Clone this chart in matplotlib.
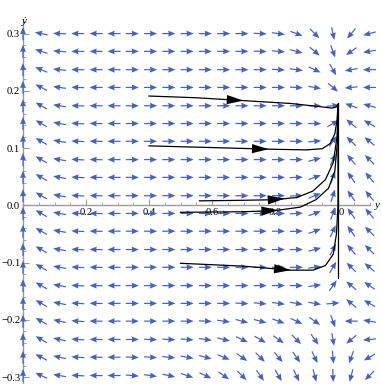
import numpy as np
import matplotlib.pyplot as plt
from matplotlib.ticker import MultipleLocator

# vector grid (x columns, y rows from top to bottom)
xs = [0.0, 0.058, 0.116, 0.174, 0.232, 0.289, 0.347, 0.405, 0.463, 0.521,
      0.579, 0.637, 0.695, 0.753, 0.811, 0.868, 0.926, 0.984, 1.042, 1.1]
ys = [0.3, 0.269, 0.237, 0.206, 0.174, 0.143, 0.112, 0.080, 0.049, 0.017,
      -0.014, -0.045, -0.077, -0.108, -0.140, -0.171, -0.202, -0.234, -0.265, -0.297]

# arrow directions on screen, degrees (0 = right, 90 = up), read row by row
angles = [
    [90, 168, 178, 180, 180, 180, 0, 0, 0, 0, 0, 0, 0, -3, -8, -20, -45, -78, -130, -165],
    [90, 162, 176, 180, 180, 180, 0, 0, 0, 0, 0, 0, 0, -2, -5, -15, -40, -70, -145, -170],
    [90, 157, 174, 179, 180, 180, 0, 0, 0, 0, 0, 0, 0, 0, -3, -8, -25, -60, -170, 180],
    [90, 152, 172, 178, 180, 180, 0, 0, 0, 0, 0, 0, 0, 0, 0, -3, -10, -40, -175, 180],
    [90, 150, 171, 178, 180, 180, 0, 0, 0, 0, 0, 0, 0, 0, 0, 0, 0, 5, 160, 165],
    [90, 150, 170, 177, 179, 180, 0, 0, 0, 0, 0, 0, 0, 0, 0, 0, 0, 30, 140, 150],
    [90, 150, 170, 177, 179, 180, 0, 0, 0, 0, 0, 0, 0, 0, 0, 0, 5, 55, 135, 140],
    [90, 150, 170, 177, 179, 180, 0, 0, 0, 0, 0, 0, 0, 0, 0, 0, 15, 65, 130, 135],
    [90, 150, 170, 177, 179, 180, 0, 0, 0, 0, 0, 0, 0, 0, 0, 2, 20, 70, 125, 130],
    [90, 150, 170, 177, 179, 180, 0, 0, 0, 0, 0, 0, 0, 0, 0, 3, 22, 72, 125, 130],
    [90, 150, 170, 177, 179, 180, 0, 0, 0, 0, 0, 0, 0, 0, 0, 3, 20, 70, 125, 130],
    [90, 150, 170, 177, 179, 180, 0, 0, 0, 0, 0, 0, 0, 0, 0, 2, 20, 65, 125, 135],
    [90, 150, 170, 177, 179, 180, 0, 0, 0, 0, 0, 0, 0, 0, 0, 0, 15, 62, 130, 135],
    [90, 150, 170, 177, 179, 180, 0, 0, 0, 0, 0, 0, 0, 0, 0, 0, 8, 60, 135, 140],
    [90, 150, 170, 177, 179, 180, 0, 0, 0, 0, 0, 0, 0, 0, 0, 0, 8, 55, 140, 145],
    [90, 150, 169, 177, 179, 180, 0, 0, 0, 0, 0, 0, -3, -5, -8, -10, -10, 5, 140, 150],
    [90, 150, 168, 176, 179, 180, 0, 0, 0, 0, -3, -8, -15, -15, -20, -25, -35, -70, 180, 170],
    [90, 150, 168, 176, 179, 180, 0, -2, -3, -5, -8, -14, -25, -30, -35, -45, -55, -80, -140, -175],
    [90, 152, 168, 176, 179, 180, -2, -4, -6, -10, -15, -22, -35, -45, -50, -55, -65, -85, -110, -150],
    [90, 155, 170, 177, 179, 180, -5, -8, -12, -18, -25, -35, -45, -55, -60, -65, -75, -88, -105, -135],
]

# trajectories (x, y points) and where each arrowhead tip sits
traj_x = [
    [0.4, 0.55, 0.7, 0.85, 0.95, 0.98, 0.995, 1.0],
    [0.4, 0.6, 0.8, 0.9, 0.95, 0.975, 0.99, 0.997, 1.0],
    [0.56, 0.7, 0.8, 0.87, 0.92, 0.96, 0.985, 0.997, 1.0],
    [0.5, 0.7, 0.8, 0.88, 0.93, 0.97, 0.99, 0.998, 1.0],
    [0.5, 0.7, 0.85, 0.92, 0.96, 0.985, 0.995, 1.0, 1.0],
    [1.0, 1.0],
]
traj_y = [
    [0.191, 0.188, 0.183, 0.178, 0.172, 0.170, 0.172, 0.177],
    [0.104, 0.101, 0.098, 0.097, 0.099, 0.108, 0.125, 0.15, 0.175],
    [0.008, 0.009, 0.010, 0.014, 0.025, 0.045, 0.075, 0.12, 0.17],
    [-0.012, -0.011, -0.009, -0.003, 0.010, 0.030, 0.060, 0.11, 0.17],
    [-0.101, -0.106, -0.113, -0.113, -0.105, -0.085, -0.05, 0.0, 0.17],
    [-0.127, 0.178],
]
head_tips = [0.70, 0.78, 0.83, 0.81, 0.85]

fig = plt.figure(figsize=(3.82, 3.84), dpi=100)
W, H = 382, 384
ax = fig.add_axes([23 / W, 1 - 383 / H, (369.5 - 23) / W, (383 - 21) / H])
ax.set_xlim(0, 1.1)
ax.set_ylim(-0.31, 0.322)

X, Y = np.meshgrid(xs, ys)
A = np.radians(np.array(angles, dtype=float))
ax.quiver(X, Y, np.cos(A), np.sin(A), angles='uv', pivot='middle',
          scale_units='dots', scale=1 / 13.0, units='dots', width=1.2,
          headwidth=5.0, headlength=6.0, headaxislength=5.5,
          color='#4563b9', clip_on=False, zorder=3)

for tx, ty in zip(traj_x, traj_y):
    ax.plot(tx, ty, color='black', lw=0.9, zorder=4, clip_on=False)

for tx, ty, tip in zip(traj_x, traj_y, head_tips):
    yt = np.interp(tip, tx[:5], ty[:5])
    yb = np.interp(tip - 0.05, tx[:5], ty[:5])
    ax.annotate('', xy=(tip, yt), xytext=(tip - 0.05, yb),
                arrowprops=dict(arrowstyle='-|>,head_length=1.2,head_width=0.33',
                                color='black', lw=0.01, shrinkA=0, shrinkB=0),
                zorder=5)

# Mathematica style axes
for s in ['top', 'right']:
    ax.spines[s].set_visible(False)
ax.spines['bottom'].set_position(('data', 0))
ax.spines['left'].set_position(('data', 0))
for s in ['bottom', 'left']:
    ax.spines[s].set_color('#9a9a9a')
    ax.spines[s].set_linewidth(1.0)

ax.set_xticks([0.2, 0.4, 0.6, 0.8, 1.0])
ax.set_xticklabels(['0.2', '0.4', '0.6', '0.8', '1.0'])
ax.xaxis.set_minor_locator(MultipleLocator(0.05))
ax.set_yticks([-0.3, -0.2, -0.1, 0.0, 0.1, 0.2, 0.3])
ax.set_yticklabels(['\u22120.3', '\u22120.2', '\u22120.1', '0.0', '0.1', '0.2', '0.3'])
ax.yaxis.set_minor_locator(MultipleLocator(0.02))
ax.tick_params(axis='both', which='both', direction='in', color='#9a9a9a',
               labelsize=7.7, labelfontfamily='Liberation Serif')
ax.tick_params(axis='both', which='major', length=4, width=0.8, pad=2)
ax.tick_params(axis='both', which='minor', length=2.2, width=0.6)

ax.text(1.125, 0.0, 'y', fontsize=8, family='Liberation Serif', style='italic',
        ha='center', va='center', clip_on=False)
ax.text(0.006, 0.322, '\u1e8f', fontsize=8, family='Liberation Serif',
        style='italic', ha='center', va='center', clip_on=False)

fig.savefig('out.png', dpi=100)
